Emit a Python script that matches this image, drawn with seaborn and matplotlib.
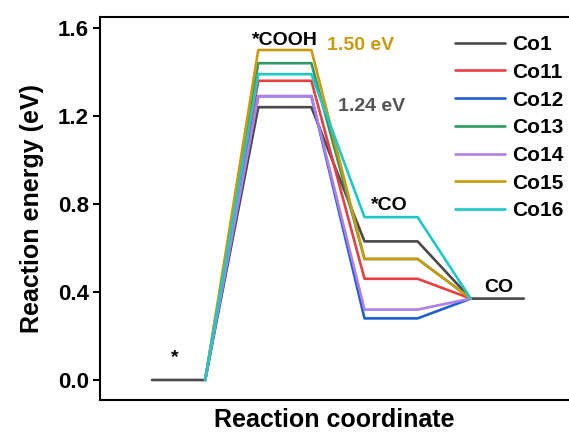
import matplotlib
matplotlib.use("Agg")
import matplotlib.pyplot as plt
from matplotlib.lines import Line2D
import seaborn as sns
import pandas as pd

# ---- data ----
states = ["*", "*COOH", "*CO", "CO"]
series = ["Co1", "Co11", "Co12", "Co13", "Co14", "Co15", "Co16"]
colors = ["#4a4a4a", "#e8403f", "#1f5fd0", "#2e9a64", "#b07ee6", "#c89a0c", "#1ec8c8"]
e_star = [0.0, 0.0, 0.0, 0.0, 0.0, 0.0, 0.0]
e_cooh = [1.24, 1.36, 1.29, 1.44, 1.29, 1.50, 1.39]
e_co_ads = [0.63, 0.46, 0.28, 0.55, 0.32, 0.55, 0.74]
e_co = [0.37, 0.37, 0.37, 0.37, 0.37, 0.37, 0.37]
yticks = [0.0, 0.4, 0.8, 1.2, 1.6]

sns.set_theme(style="ticks")
plt.rcParams["font.family"] = ["Liberation Sans", "DejaVu Sans"]
plt.rcParams["font.weight"] = "bold"
plt.rcParams["text.color"] = "black"
plt.rcParams["axes.labelcolor"] = "black"
plt.rcParams["ytick.color"] = "black"
plt.rcParams["xtick.color"] = "black"

rows = []
for i, name in enumerate(series):
    levels = [e_star[i], e_cooh[i], e_co_ads[i], e_co[i]]
    xs, ys = [], []
    for k, e in enumerate(levels):
        xs += [2 * k, 2 * k + 1]
        ys += [e, e]
    if name != "Co1":
        xs, ys = xs[1:-1], ys[1:-1]
    for order, (x, y) in enumerate(zip(xs, ys)):
        rows.append({"series": name, "x": x, "energy": y, "order": order})
df = pd.DataFrame(rows)

fig = plt.figure(figsize=(5.69, 4.38), dpi=100)
ax = fig.add_axes([100 / 569, 38 / 438, 469 / 569, 383 / 438])

sns.lineplot(data=df, x="x", y="energy", hue="series", hue_order=series,
             palette=dict(zip(series, colors)), sort=False, estimator=None,
             linewidth=1.9, ax=ax, legend=False)

ax.set_xlim(-0.98, 7.85)
ax.set_ylim(-0.091, 1.65)
ax.set_xticks([])
ax.set_yticks(yticks)
ax.set_yticklabels([f"{v:.1f}" for v in yticks], fontsize=16, fontweight="bold", color="black")
ax.tick_params(axis="y", length=5, width=1.5, pad=3, colors="black")
for s in ["left", "bottom", "top"]:
    ax.spines[s].set_linewidth(1.5)
    ax.spines[s].set_color("black")
ax.spines["right"].set_visible(False)

ax.set_xlabel("Reaction coordinate", fontsize=18, fontweight="bold", labelpad=6, color="black")
ax.set_ylabel("Reaction energy (eV)", fontsize=18, fontweight="bold", labelpad=10, color="black")

# annotations
ax.text(0.43, 0.10, "*", fontsize=14, fontweight="bold", ha="center", va="center", color="black")
ax.text(2.5, 1.545, "*COOH", fontsize=14, fontweight="bold", ha="center", va="center", color="black")
ax.text(3.30, 1.52, "1.50 eV", fontsize=14, fontweight="bold", ha="left", va="center", color="#c89a0c")
ax.text(3.50, 1.245, "1.24 eV", fontsize=14, fontweight="bold", ha="left", va="center", color="#555555")
ax.text(4.46, 0.795, "*CO", fontsize=14, fontweight="bold", ha="center", va="center", color="black")
ax.text(6.53, 0.42, "CO", fontsize=14, fontweight="bold", ha="center", va="center", color="black")

handles = [Line2D([0], [0], color=c, lw=1.9) for c in colors]
leg = ax.legend(handles, series, loc="upper left", bbox_to_anchor=(455 / 569, 1 - 35 / 438),
                bbox_transform=fig.transFigure, frameon=False,
                prop={"size": 15, "weight": "bold"}, handlelength=2.4,
                handletextpad=0.34, labelspacing=0.42, borderaxespad=0, borderpad=0)
for t in leg.get_texts():
    t.set_color("black")

fig.savefig("out.png", dpi=100)
